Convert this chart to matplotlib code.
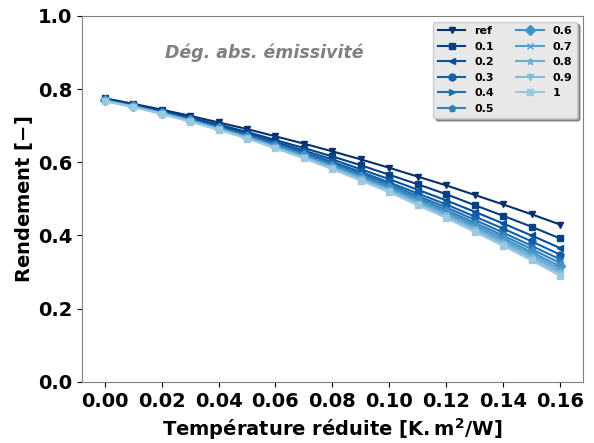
import numpy as np
import matplotlib
matplotlib.use("Agg")
import matplotlib.pyplot as plt

# reduced temperature [K.m2/W]
t_red = [0.00, 0.01, 0.02, 0.03, 0.04, 0.05, 0.06, 0.07, 0.08,
         0.09, 0.10, 0.11, 0.12, 0.13, 0.14, 0.15, 0.16]

labels = ["ref", "0.1", "0.2", "0.3", "0.4", "0.5", "0.6", "0.7", "0.8", "0.9", "1"]

eta_ref = [.775, .760, .744, .727, .709, .691, .671, .651, .630, .608, .585, .561, .537, .511, .485, .458, .430]
eta_01 = [.772, .757, .740, .722, .703, .683, .661, .639, .616, .592, .566, .540, .513, .483, .454, .424, .392]
eta_02 = [.771, .756, .738, .720, .699, .679, .656, .632, .608, .581, .554, .525, .496, .465, .433, .400, .366]
eta_03 = [.770, .754, .737, .718, .697, .675, .651, .627, .601, .574, .545, .515, .485, .452, .419, .384, .348]
eta_04 = [.770, .754, .736, .717, .695, .674, .649, .624, .597, .569, .540, .508, .477, .443, .408, .372, .335]
eta_05 = [.769, .753, .735, .715, .694, .671, .646, .621, .594, .565, .534, .503, .470, .435, .400, .363, .325]
eta_06 = [.769, .753, .735, .715, .693, .670, .645, .619, .591, .561, .530, .498, .465, .429, .393, .355, .316]
eta_07 = [.768, .752, .734, .713, .691, .668, .643, .616, .588, .558, .527, .494, .460, .424, .387, .349, .309]
eta_08 = [.768, .752, .734, .713, .691, .667, .641, .614, .586, .556, .524, .490, .456, .419, .382, .343, .302]
eta_09 = [.768, .752, .733, .713, .690, .666, .640, .613, .584, .553, .521, .487, .452, .415, .377, .337, .296]
eta_10 = [.767, .751, .732, .711, .689, .665, .638, .611, .581, .550, .518, .483, .448, .410, .372, .332, .290]

series = [eta_ref, eta_01, eta_02, eta_03, eta_04, eta_05,
          eta_06, eta_07, eta_08, eta_09, eta_10]
markers = ["v", "s", "<", "o", ">", "p", "D", "x", "*", "v", "s"]
colors = plt.cm.Blues(np.linspace(1.0, 0.38, len(series)))

plt.rcParams["font.weight"] = "bold"
plt.rcParams["axes.labelweight"] = "bold"

fig = plt.figure(figsize=(5.94, 4.43), dpi=100)
ax = fig.add_axes([0.138, 0.138, 0.843, 0.826])

for y, lab, m, c in zip(series, labels, markers, colors):
    ax.plot(t_red, y, marker=m, color=c, label=lab, markersize=5, linewidth=1.5)

ax.set_ylim(0, 1.0)
ax.set_yticks([0.0, 0.2, 0.4, 0.6, 0.8, 1.0])
ax.set_xticks([0.00, 0.02, 0.04, 0.06, 0.08, 0.10, 0.12, 0.14, 0.16])
ax.tick_params(labelsize=14)
ax.set_xlabel(r"Température réduite [$\mathbf{K.m^2/W}$]", fontsize=14)
ax.set_ylabel(r"Rendement [$\mathbf{-}$]", fontsize=14, labelpad=2)
for sp in ax.spines.values():
    sp.set_color("#808080")

ax.text(0.165, 0.885, "Dég. abs. émissivité", transform=ax.transAxes,
        fontsize=12.5, fontstyle="italic", fontweight="bold", color="#808080")

leg = ax.legend(ncol=2, loc="upper right", fontsize=8, shadow=True,
                facecolor="#e8e8e8", framealpha=1, handlelength=2.5)

fig.savefig("out.png", dpi=100)
